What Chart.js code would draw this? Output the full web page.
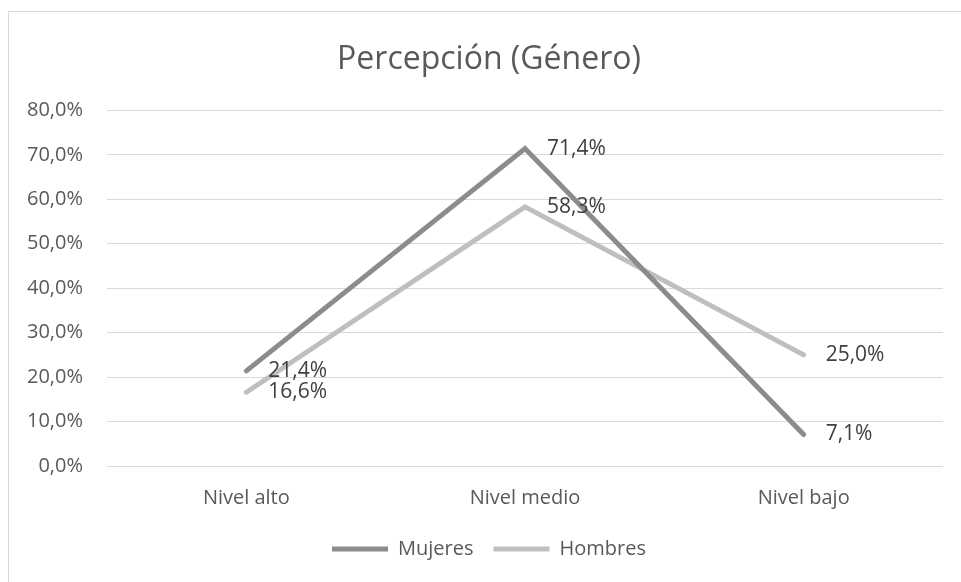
<!DOCTYPE html>
<html>
<head>
<meta charset="utf-8">
<script src="https://cdn.jsdelivr.net/npm/chart.js@4/dist/chart.umd.min.js"></script>
<style>
  html, body { margin: 0; padding: 0; background: #ffffff; overflow: hidden; }
  #frame { position: absolute; left: 8px; top: 11px; width: 960px; height: 580px; border: 1px solid #d9d9d9; box-sizing: content-box; }
  #c { display: block; }
</style>
</head>
<body>
<div id="frame"><canvas id="c" width="960" height="580"></canvas></div>
<script>
const categories = ["Nivel alto", "Nivel medio", "Nivel bajo"];
const mujeres = [21.4, 71.4, 7.1];
const hombres = [16.6, 58.3, 25.0];
const yTicks = [0, 10, 20, 30, 40, 50, 60, 70, 80];

const fmt = v => v.toFixed(1).replace('.', ',') + '%';
const FONT = "'Open Sans', sans-serif";

const dataLabels = {
  id: 'dataLabels',
  afterDatasetsDraw(chart) {
    const ctx = chart.ctx;
    ctx.save();
    ctx.font = "21px " + FONT;
    ctx.fillStyle = '#404040';
    ctx.textAlign = 'left';
    ctx.textBaseline = 'middle';
    chart.data.datasets.forEach((ds, i) => {
      const meta = chart.getDatasetMeta(i);
      meta.data.forEach((pt, j) => {
        ctx.fillText(fmt(ds.data[j]), pt.x + 22, pt.y);
      });
    });
    ctx.restore();
  }
};

new Chart(document.getElementById('c'), {
  type: 'line',
  data: {
    labels: categories,
    datasets: [
      { label: 'Mujeres', data: mujeres, borderColor: '#8c8c8c', backgroundColor: '#8c8c8c', borderWidth: 5, pointRadius: 0, borderCapStyle: 'round', borderJoinStyle: 'miter', tension: 0 },
      { label: 'Hombres', data: hombres, borderColor: '#bfbfbf', backgroundColor: '#bfbfbf', borderWidth: 5, pointRadius: 0, borderCapStyle: 'round', borderJoinStyle: 'miter', tension: 0 }
    ]
  },
  options: {
    responsive: false,
    animation: false,
    layout: { padding: { top: 0, right: 0, bottom: 23, left: 0 } },
    plugins: {
      title: {
        display: true,
        text: 'Percepción (Género)',
        color: '#595959',
        font: { family: FONT, size: 32, weight: 'normal' },
        padding: { top: 29, bottom: 31 }
      },
      legend: {
        position: 'bottom',
        labels: {
          color: '#595959',
          font: { family: FONT, size: 20 },
          usePointStyle: true,
          pointStyle: 'line',
          pointStyleWidth: 56,
          boxHeight: 5,
          padding: 20
        }
      },
      tooltip: { enabled: false }
    },
    scales: {
      x: {
        offset: true,
        afterFit: s => { s.height = 53; },
        grid: { display: false, drawTicks: false },
        border: { display: false },
        ticks: { color: '#595959', font: { family: FONT, size: 20 }, padding: 20 }
      },
      y: {
        min: 0, max: 80,
        afterBuildTicks: s => { s.ticks = yTicks.map(v => ({ value: v })); },
        afterFit: s => { s.width = 98; },
        grid: { color: '#d9d9d9', lineWidth: 1, drawTicks: false },
        border: { display: false },
        ticks: { color: '#595959', font: { family: FONT, size: 20 }, padding: 24, callback: v => fmt(v) }
      },
      yRight: {
        position: 'right',
        min: 0, max: 80,
        afterFit: s => { s.width = 26; },
        grid: { display: false, drawTicks: false },
        border: { display: false },
        ticks: { display: false }
      }
    }
  },
  plugins: [dataLabels]
});
</script>
</body>
</html>
